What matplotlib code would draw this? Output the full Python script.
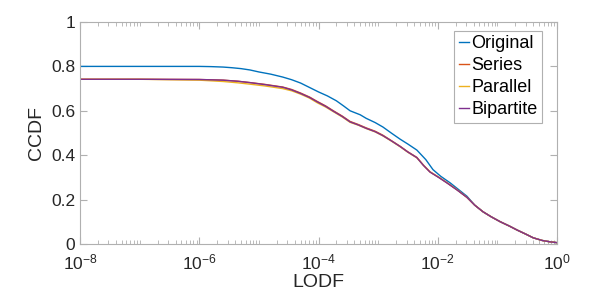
import numpy as np
import matplotlib
matplotlib.use("Agg")
import matplotlib.pyplot as plt
from matplotlib.ticker import LogLocator, FixedLocator, NullFormatter

plt.rcParams['font.family'] = ['Liberation Sans', 'DejaVu Sans']

# log10(LODF) sample points and CCDF values
orig_logx = [-8, -8, -7, -6, -5.8, -5.6, -5.45, -5.3, -5.15, -5.0, -4.8, -4.6, -4.45, -4.3, -4.15, -4.0,
             -3.85, -3.7, -3.58, -3.47, -3.3, -3.2, -3.05, -2.92, -2.78, -2.63, -2.5, -2.35, -2.2,
             -2.08, -1.95, -1.79, -1.65, -1.51, -1.38, -1.24, -1.1, -0.95, -0.8, -0.67, -0.52, -0.4,
             -0.25, -0.12, 0]
orig_y = [1.0, 0.80, 0.80, 0.80, 0.799, 0.797, 0.794, 0.79, 0.784, 0.775, 0.765, 0.752, 0.74, 0.725,
          0.705, 0.685, 0.667, 0.645, 0.622, 0.600, 0.582, 0.566, 0.547, 0.527, 0.50, 0.472, 0.45,
          0.423, 0.38, 0.335, 0.305, 0.275, 0.245, 0.215, 0.175, 0.145, 0.122, 0.10, 0.081, 0.063,
          0.044, 0.028, 0.016, 0.01, 0.006]

series_logx = [-8, -8, -7, -6, -5.6, -5.35, -5.15, -4.9, -4.6, -4.45, -4.3, -4.15, -4.02, -3.88,
               -3.75, -3.6, -3.47, -3.33, -3.2, -3.05, -2.92, -2.78, -2.63, -2.5, -2.35, -2.24, -2.13,
               -1.98, -1.84, -1.68, -1.51, -1.38, -1.24, -1.1, -0.95, -0.8, -0.67, -0.52, -0.4, -0.25,
               -0.12, 0]
series_y = [1.0, 0.742, 0.742, 0.741, 0.738, 0.733, 0.727, 0.719, 0.707, 0.696, 0.68, 0.662, 0.642,
            0.622, 0.60, 0.576, 0.552, 0.538, 0.523, 0.508, 0.49, 0.466, 0.44, 0.415, 0.39, 0.355,
            0.325, 0.300, 0.275, 0.245, 0.21, 0.175, 0.145, 0.122, 0.10, 0.081, 0.063, 0.044, 0.028,
            0.016, 0.01, 0.006]

parallel_logx = [-8, -8, -7, -6, -5.6, -5.35, -5.15, -4.9, -4.6, -4.45, -4.3, -4.15, -4.02, -3.88,
                 -3.75, -3.6, -3.47, -3.33, -3.2, -3.05, -2.92, -2.78, -2.63, -2.5, -2.35, -2.24, -2.13,
                 -1.98, -1.84, -1.68, -1.51, -1.38, -1.24, -1.1, -0.95, -0.8, -0.67, -0.52, -0.4, -0.25,
                 -0.12, 0]
parallel_y = [1.0, 0.742, 0.742, 0.738, 0.732, 0.726, 0.720, 0.712, 0.700, 0.690, 0.675, 0.657, 0.636,
              0.617, 0.596, 0.572, 0.548, 0.535, 0.520, 0.505, 0.487, 0.464, 0.438, 0.413, 0.388,
              0.355, 0.325, 0.300, 0.275, 0.245, 0.21, 0.175, 0.145, 0.122, 0.10, 0.081, 0.063, 0.044,
              0.028, 0.016, 0.01, 0.006]

bip_logx = [-8, -8, -7, -6, -5.6, -5.35, -5.15, -4.9, -4.6, -4.45, -4.3, -4.15, -4.02, -3.88,
            -3.75, -3.6, -3.47, -3.33, -3.2, -3.05, -2.92, -2.78, -2.63, -2.5, -2.35, -2.24, -2.13,
            -1.98, -1.84, -1.68, -1.51, -1.38, -1.24, -1.1, -0.95, -0.8, -0.67, -0.52, -0.4, -0.25,
            -0.12, 0]
bip_y = [1.0, 0.742, 0.742, 0.741, 0.738, 0.733, 0.727, 0.718, 0.706, 0.694, 0.678, 0.66, 0.64,
         0.62, 0.598, 0.574, 0.55, 0.536, 0.521, 0.506, 0.488, 0.465, 0.439, 0.414, 0.389, 0.354,
         0.324, 0.299, 0.274, 0.244, 0.21, 0.175, 0.145, 0.122, 0.10, 0.081, 0.063, 0.044, 0.028,
         0.016, 0.01, 0.006]

names = ['Original', 'Series', 'Parallel', 'Bipartite']
colors = ['#0072BD', '#D95319', '#EDB120', '#7E2F8E']

fig = plt.figure(figsize=(6.15, 2.98), dpi=100)
ax = fig.add_axes([80 / 615, 1 - 244 / 298, 477 / 615, 222 / 298])

curves = [(orig_logx, orig_y), (series_logx, series_y), (parallel_logx, parallel_y), (bip_logx, bip_y)]
for (lx, yy), name, c in zip(curves, names, colors):
    ax.plot(10.0 ** np.array(lx), yy, color=c, lw=1.0, label=name)

ax.set_xscale('log')
ax.set_xlim(1e-8, 1)
ax.set_ylim(0, 1)
ax.xaxis.set_major_locator(FixedLocator([1e-8, 1e-6, 1e-4, 1e-2, 1]))
ax.xaxis.set_minor_locator(LogLocator(base=10, subs=np.arange(1, 10), numticks=20))
ax.xaxis.set_minor_formatter(NullFormatter())
ax.set_xticklabels(['$\\mathregular{10^{-8}}$', '$\\mathregular{10^{-6}}$', '$\\mathregular{10^{-4}}$',
                    '$\\mathregular{10^{-2}}$', '$\\mathregular{10^{0}}$'])
ax.set_yticks([0, 0.2, 0.4, 0.6, 0.8, 1])
ax.set_yticklabels(['0', '0.2', '0.4', '0.6', '0.8', '1'])

for s in ax.spines.values():
    s.set_color('#b0b0b0')
    s.set_linewidth(0.8)
ax.tick_params(which='both', direction='in', top=True, right=True, colors='#b0b0b0',
               labelcolor='#262626', labelsize=12.5)
ax.tick_params(axis='x', which='major', pad=6)
ax.tick_params(which='major', length=5)
ax.tick_params(which='minor', length=3)

ax.set_xlabel('LODF', fontsize=14, color='#262626', labelpad=1)
ax.set_ylabel('CCDF', fontsize=14, color='#262626', labelpad=4)

leg = ax.legend(loc='upper right', bbox_to_anchor=(0.98, 0.985), fontsize=13, handlelength=0.55,
                handletextpad=0.15, borderpad=0.25, borderaxespad=0.3, labelspacing=0.28,
                fancybox=False, framealpha=1)
leg.get_frame().set_edgecolor('#b0b0b0')
leg.get_frame().set_linewidth(0.8)

fig.savefig('out.png', dpi=100)
